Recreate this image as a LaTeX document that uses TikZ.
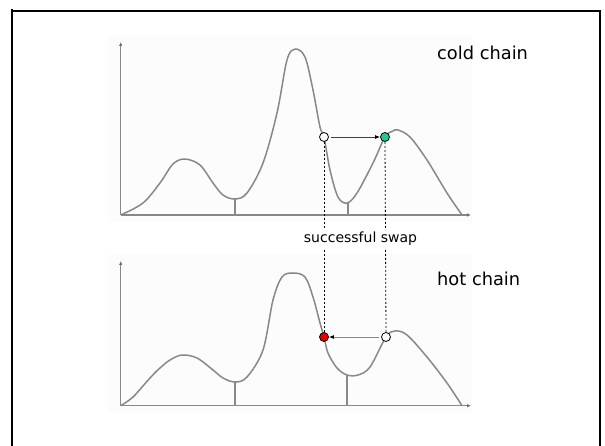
\documentclass[tikz,border=0pt]{standalone}
\usepackage{fontspec}
\setmainfont{DejaVu Sans}
\usetikzlibrary{arrows.meta}
\definecolor{curvegray}{RGB}{136,136,136}
\definecolor{swapgreen}{RGB}{32,200,150}
\definecolor{swapred}{RGB}{230,0,0}
\tikzset{
  curve/.style={draw=curvegray, line width=1.5pt, line join=round},
  axis/.style={draw=curvegray, line width=1.3pt, -{Latex[length=4pt,width=3.5pt,color=curvegray!80!black]}},
  tickline/.style={draw=curvegray, line width=1.3pt},
  dot/.style={circle, draw=black, line width=0.8pt, minimum size=9pt, inner sep=0pt},
  swapline/.style={draw=black, line width=0.8pt, dash pattern=on 2pt off 2pt},
  move/.style={line width=0.9pt, -{Latex[length=5pt,width=4pt,color=black]}},
  biglabel/.style={font=\fontsize{17.8}{20}\selectfont, anchor=base west, inner sep=0pt},
  smalllabel/.style={font=\fontsize{14}{16}\selectfont, fill=white, inner sep=2pt}
}
\begin{document}
\begin{tikzpicture}[x=1pt,y=-1pt]
\useasboundingbox (0,0) rectangle (605,446);
\fill[white] (0,0) rectangle (605,446);
% frame
\draw[line width=2pt] (11.5,11) -- (600,11) -- (600,452) (11.5,9.5) -- (11.5,452);
% faint plot backgrounds
\fill[black!1] (108,36) rectangle (472,222);
\fill[black!1] (108,254) rectangle (472,412);

% ---------- top plot (cold chain) ----------
\coordinate (tO) at (120.7,215);
\coordinate (tY) at (120.7,42);
\coordinate (tX) at (471,215);
\draw[axis] (tO) -- (tY);
\draw[axis] (tO) -- (tX);
\coordinate (tm1) at (235,199);
\coordinate (tm1b) at (235,215);
\coordinate (tm2) at (348,203);
\coordinate (tm2b) at (348,215);
\draw[tickline] (tm1) -- (tm1b);
\draw[tickline] (tm2) -- (tm2b);
\draw[curve] plot[smooth, tension=0.55] coordinates {
 (120.7,215) (143,203) (160,183) (173,164) (185,159) (200,165) (213,183)
 (223,195) (235,199) (247,193) (263,163) (277,113) (287,60) (295,49)
 (305,57) (313,90) (320,127) (324,137) (330,170) (338,197) (347,203)
 (357,193) (373,163) (385,137) (393,131) (398,130) (410,137) (427,160)
 (447,193) (462,215)};

% ---------- bottom plot (hot chain) ----------
\coordinate (bO) at (120.7,405.7);
\coordinate (bY) at (120.7,261);
\coordinate (bX) at (471,405.7);
\draw[axis] (bO) -- (bY);
\draw[axis] (bO) -- (bX);
\coordinate (bm1) at (235,382);
\coordinate (bm1b) at (235,405.7);
\coordinate (bm2) at (347,375);
\coordinate (bm2b) at (347,405.7);
\draw[tickline] (bm1) -- (bm1b);
\draw[tickline] (bm2) -- (bm2b);
\draw[curve] plot[smooth, tension=0.55] coordinates {
 (120.7,405.7) (133,397) (150,378) (160,368) (170,360) (182,355) (197,358)
 (213,370) (223,378) (235,382) (247,377) (263,350) (273,300) (282,277)
 (293,273) (305,277) (313,297) (320,323) (324,337) (328,353) (337,368)
 (347,375) (358,375) (370,367) (386,337) (395,331) (407,335) (427,357)
 (447,383) (462,405.7)};

% ---------- swap ----------
\node[dot, fill=white] (cw) at (324,137) {};
\node[dot, fill=swapgreen] (cg) at (385,137) {};
\node[dot, fill=swapred] (hr) at (324,337) {};
\node[dot, fill=white] (hw) at (386,337) {};

\draw[swapline] (cw.south) -- (hr.north);
\draw[swapline] (cg.south) -- (hw.north);
\node[smalllabel] (swap) at (360.5,239) {successful swap};

\draw[move, draw=black!75] (cw.east) ++(2.5pt,0) -- (cg.west);
\draw[move, draw=curvegray] (hw.west) ++(-2pt,0) -- (hr.east);

\node[biglabel] (cold) at (437,60) {cold chain};
\node[biglabel] (hot) at (437,286) {hot chain};
\end{tikzpicture}
\end{document}
